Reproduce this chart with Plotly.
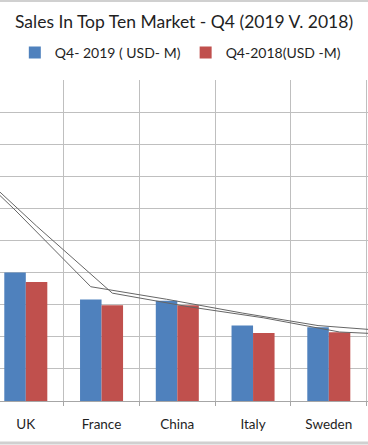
import plotly.graph_objects as go

# ---- data ----
categories = ["UK", "France", "China", "Italy", "Sweden"]
q4_2019 = [400, 316, 312, 235, 230]
q4_2018 = [371, 298, 298, 212, 214]

# trend lines (values at each bar centre; first/last entries belong to the
# neighbouring markets that fall outside the visible crop)
line_positions = [-1, 0, 1, 2, 3, 4, 5]
trend_2019 = [822, 595, 356, 317, 274, 235, 217]
trend_2018 = [764, 545, 336, 294, 259, 215, 204]

name_2019 = "Q4- 2019 ( USD- M)"
name_2018 = "Q4-2018(USD -M)"

BLUE = "#4F81BD"
RED = "#C0504D"
GRID = "#BFBFBF"
TEXT = "#1F1F1F"

bargap = 0.432
half = (1 - bargap) / 4  # centre offset of each bar in a group

idx = list(range(len(categories)))

fig = go.Figure()
fig.add_trace(go.Bar(x=idx, y=q4_2019, name=name_2019, marker_color=BLUE,
                     marker_line_width=0))
fig.add_trace(go.Bar(x=idx, y=q4_2018, name=name_2018, marker_color=RED,
                     marker_line_width=0))
fig.add_trace(go.Scatter(x=[p - half for p in line_positions], y=trend_2019,
                         mode="lines", line=dict(color="#666666", width=1),
                         showlegend=False, hoverinfo="skip"))
fig.add_trace(go.Scatter(x=[p + half for p in line_positions], y=trend_2018,
                         mode="lines", line=dict(color="#666666", width=1),
                         showlegend=False, hoverinfo="skip"))

W, H = 368, 445
top, bottom = 80, 44
plot_h = H - top - bottom

fig.update_layout(
    width=W, height=H,
    margin=dict(l=0, r=0, t=top, b=bottom, pad=0),
    paper_bgcolor="white", plot_bgcolor="white",
    barmode="group", bargap=bargap, bargroupgap=0,
    title=dict(text="Sales In Top Ten Market - Q4 (2019 V. 2018)",
               x=0.5, xanchor="center", y=1 - 22 / H, yanchor="middle",
               font=dict(family="Lato", size=17.5, color=TEXT)),
    legend=dict(orientation="h", x=0.49, xanchor="center",
                y=1 + (80 - 53) / plot_h, yanchor="middle",
                font=dict(family="Lato", size=14, color=TEXT),
                itemwidth=30, traceorder="normal"),
    xaxis=dict(range=[-25.8 / 75.75, -25.8 / 75.75 + W / 75.75],
               tickmode="array", tickvals=idx, ticktext=categories,
               showgrid=False, ticks="", ticklabelstandoff=11,
               tickfont=dict(family="Lato", size=13.5, color=TEXT),
               showline=True, linecolor="#A6A6A6", linewidth=1,
               minor=dict(tickmode="array",
                          tickvals=[i - 0.5 for i in range(len(categories) + 1)],
                          showgrid=True, gridcolor=GRID, gridwidth=1,
                          ticks="outside", ticklen=4, tickcolor="#A6A6A6"),
               zeroline=False, fixedrange=True, automargin=False),
    yaxis=dict(range=[0, 1000], dtick=100, showticklabels=False,
               showgrid=True, gridcolor=GRID, gridwidth=1,
               zeroline=False, showline=False, fixedrange=True),
    shapes=[
        dict(type="line", xref="paper", yref="paper", x0=0, x1=1,
             y0=1 + (top - 1) / plot_h, y1=1 + (top - 1) / plot_h,
             line=dict(color="#D0D0D0", width=2)),
        dict(type="line", xref="paper", yref="paper", x0=0, x1=1,
             y0=-(443 - (H - bottom)) / plot_h, y1=-(443 - (H - bottom)) / plot_h,
             line=dict(color="#D0D0D0", width=3)),
    ],
)

fig.write_html("out.html", config={"displayModeBar": False},
               post_script="document.body.style.margin='0';document.body.style.overflow='hidden';")
